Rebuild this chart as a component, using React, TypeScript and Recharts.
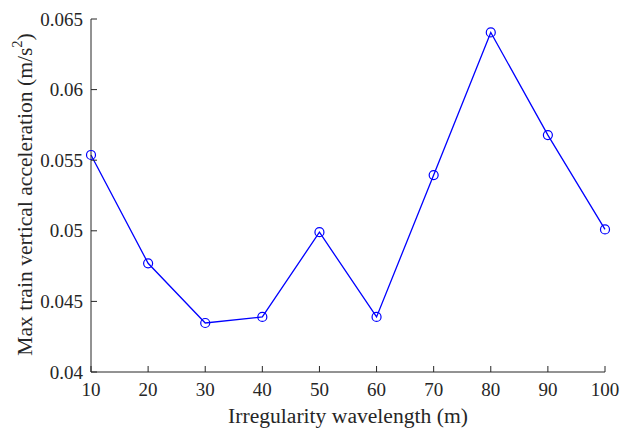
import React from "react";
import { LineChart, Line, XAxis, YAxis, Label } from "recharts";

const wavelengths = [10, 20, 30, 40, 50, 60, 70, 80, 90, 100];
const accelerations = [0.05537, 0.0477, 0.04347, 0.0439, 0.0499, 0.0439, 0.05395, 0.06405, 0.05678, 0.0501];
const xTicks = [10, 20, 30, 40, 50, 60, 70, 80, 90, 100];
const yTicks = [0.04, 0.045, 0.05, 0.055, 0.06, 0.065];
const yTickLabels = ["0.04", "0.045", "0.05", "0.055", "0.06", "0.065"];

const data = wavelengths.map((w, i) => ({ w, a: accelerations[i] }));

const AXIS = "#262626";
const FONT = "'Liberation Serif', 'Times New Roman', serif";
const TICK_FS = 19;
const LABEL_FS = 21.6;
const TL = 6;

const BottomTick = (props: any) => {
  const { x, y, payload } = props;
  return (
    <g>
      <line x1={x} y1={y} x2={x} y2={y - TL} stroke={AXIS} strokeWidth={1} />
      <text x={x} y={y + 24} textAnchor="middle" fill={AXIS} fontFamily={FONT} fontSize={TICK_FS}>
        {payload.value}
      </text>
    </g>
  );
};

const TopTick = (props: any) => {
  const { x, y } = props;
  return <line x1={x} y1={y} x2={x} y2={y + TL} stroke={AXIS} strokeWidth={1} />;
};

const LeftTick = (props: any) => {
  const { x, y, payload } = props;
  const i = yTicks.indexOf(payload.value);
  return (
    <g>
      <line x1={x} y1={y} x2={x + TL} y2={y} stroke={AXIS} strokeWidth={1} />
      <text x={x - 8} y={y} dy="0.35em" textAnchor="end" fill={AXIS} fontFamily={FONT} fontSize={TICK_FS}>
        {i >= 0 ? yTickLabels[i] : String(payload.value)}
      </text>
    </g>
  );
};

const RightTick = (props: any) => {
  const { x, y } = props;
  return <line x1={x} y1={y} x2={x - TL} y2={y} stroke={AXIS} strokeWidth={1} />;
};

const Dot = (props: any) => {
  const { cx, cy, index } = props;
  return <circle key={index} cx={cx} cy={cy} r={4.5} fill="none" stroke="#0000ff" strokeWidth={1.2} />;
};

export default function App() {
  return (
    <div style={{ background: "#fff" }}>
      <LineChart width={626} height={422} data={data} margin={{ top: 11, right: 29, left: 0, bottom: 0 }}>
        <XAxis
          xAxisId="bottom"
          dataKey="w"
          type="number"
          domain={[10, 100]}
          ticks={xTicks}
          height={58}
          tickSize={0}
          tickMargin={0}
          tickLine={false}
          tick={<BottomTick />}
          stroke={AXIS}
          interval={0}
        >
          <Label
            content={(p: any) => {
              const vb = p.viewBox;
              return (
                <text x={vb.x + vb.width / 2} y={vb.y + 51} textAnchor="middle" fill={AXIS} fontFamily={FONT} fontSize={LABEL_FS}>
                  Irregularity wavelength (m)
                </text>
              );
            }}
          />
        </XAxis>
        <XAxis
          xAxisId="top"
          orientation="top"
          dataKey="w"
          type="number"
          domain={[10, 100]}
          ticks={xTicks}
          height={0}
          tickSize={0}
          tickMargin={0}
          tickLine={false}
          tick={<TopTick />}
          stroke={AXIS}
          interval={0}
        />
        <YAxis
          yAxisId="left"
          type="number"
          domain={[0.04, 0.065]}
          ticks={yTicks}
          width={83}
          tickSize={0}
          tickMargin={0}
          tickLine={false}
          tick={<LeftTick />}
          stroke={AXIS}
          interval={0}
        >
          <Label
            content={(p: any) => {
              const vb = p.viewBox;
              const cx = 17;
              const cy = vb.y + vb.height / 2 - 1;
              return (
                <text
                  x={cx}
                  y={cy}
                  transform={`rotate(-90, ${cx}, ${cy})`}
                  textAnchor="middle"
                  dominantBaseline="central"
                  fill={AXIS}
                  fontFamily={FONT}
                  fontSize={LABEL_FS}
                >
                  Max train vertical acceleration (m/s
                  <tspan dy={-8} fontSize={14.5}>2</tspan>
                  <tspan dy={8}>)</tspan>
                </text>
              );
            }}
          />
        </YAxis>
        <YAxis
          yAxisId="right"
          orientation="right"
          type="number"
          domain={[0.04, 0.065]}
          ticks={yTicks}
          width={0}
          tickSize={0}
          tickMargin={0}
          tickLine={false}
          tick={<RightTick />}
          stroke={AXIS}
          interval={0}
        />
        <Line
          xAxisId="bottom"
          yAxisId="left"
          type="linear"
          dataKey="a"
          stroke="#0000ff"
          strokeWidth={1.3}
          dot={<Dot />}
          activeDot={false}
          isAnimationActive={false}
        />
      </LineChart>
    </div>
  );
}
